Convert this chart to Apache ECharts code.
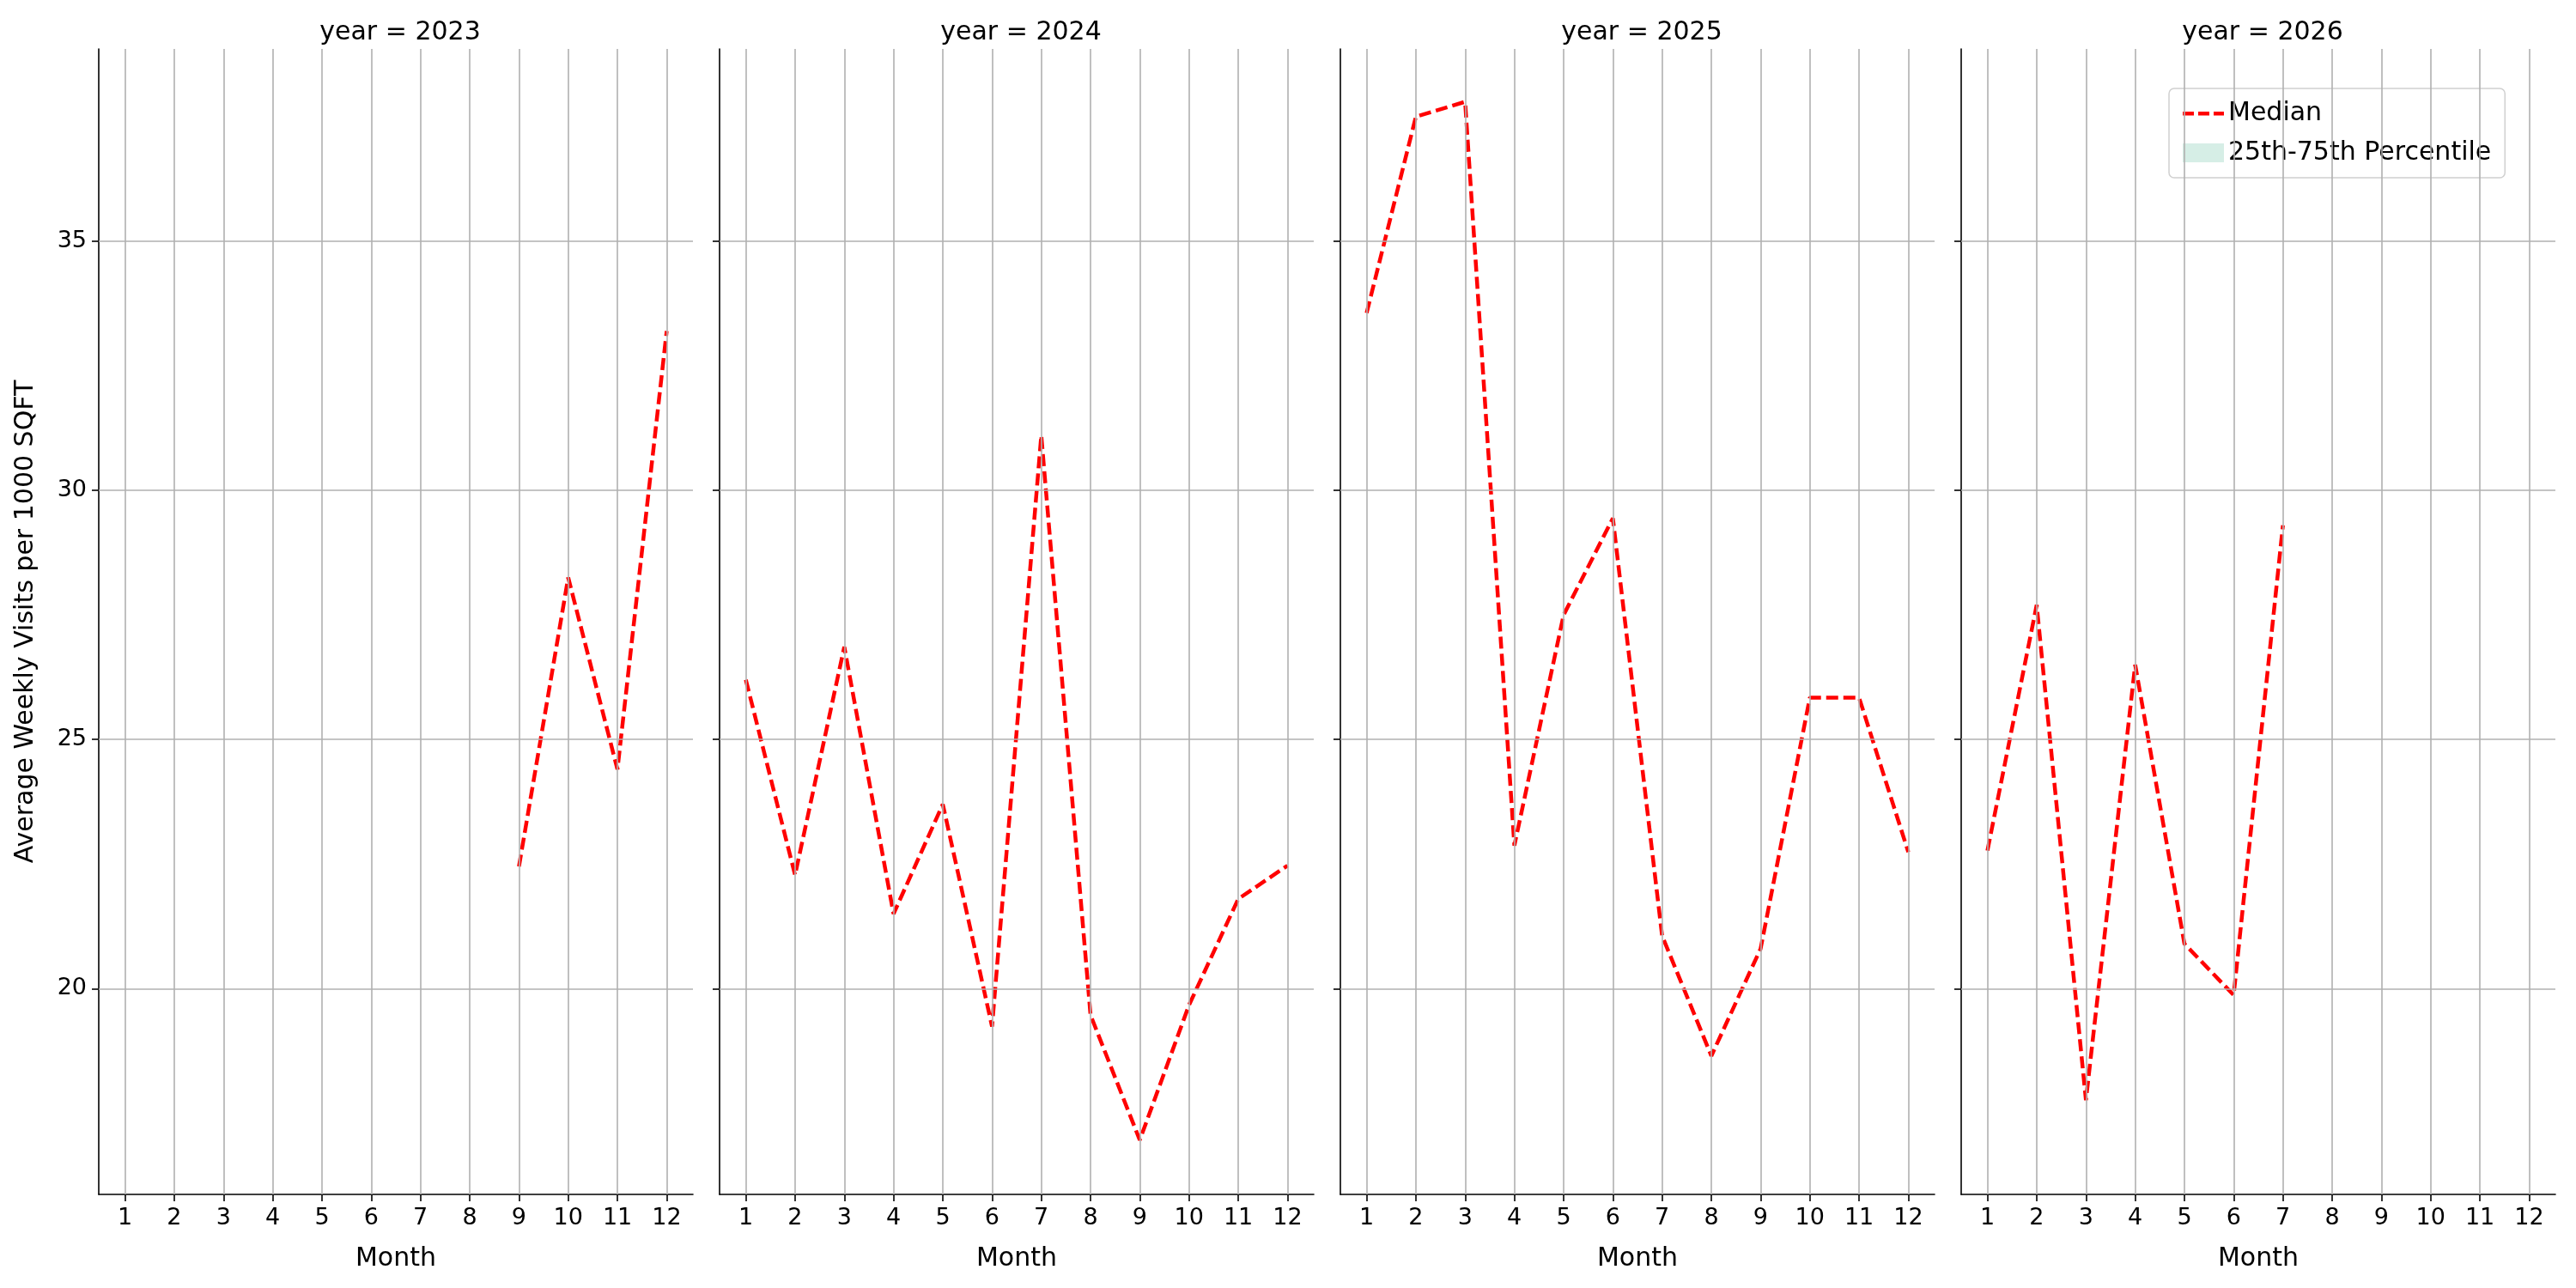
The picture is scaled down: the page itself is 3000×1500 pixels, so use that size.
<!DOCTYPE html>
<html><head><meta charset="utf-8">
<script src="https://cdn.jsdelivr.net/npm/echarts@6/dist/echarts.min.js"></script>
<style>html,body{margin:0;padding:0;background:#fff}#c{width:3000px;height:1500px}</style>
</head><body><div id="c"></div>
<script>
const years = [2023, 2024, 2025, 2026];
const months = [1,2,3,4,5,6,7,8,9,10,11,12];
const median2023 = [null,null,null,null,null,null,null,null,22.45,28.25,24.4,33.2];
const median2024 = [26.2,22.28,26.86,21.5,23.7,19.24,31.1,19.47,16.96,19.67,21.8,22.47];
const median2025 = [33.56,37.5,37.8,22.87,27.5,29.44,21.06,18.65,20.8,25.84,25.84,22.74];
const median2026 = [22.77,27.7,17.76,26.5,20.9,19.87,29.3,null,null,null,null,null];
const medians = [median2023, median2024, median2025, median2026];
const yTicks = [20, 25, 30, 35];

const lefts = [115, 838, 1561, 2284];
const W = 692, TOP = 57, H = 1334;
const font = 'DejaVu Sans';
const grids = [], xAxes = [], yAxes = [], series = [], titles = [];
years.forEach((yr, i) => {
  grids.push({left: lefts[i], top: TOP, width: W, height: H});
  titles.push({text: 'year = ' + yr, left: lefts[i] + W/2, top: 18, textAlign: 'center',
    textStyle: {fontFamily: font, fontSize: 30, fontWeight: 'normal', color: '#000'}});
  xAxes.push({type: 'value', gridIndex: i, min: 0.467, max: 12.533, interval: 1,
    name: 'Month', nameLocation: 'middle', nameGap: 60,
    nameTextStyle: {fontFamily: font, fontSize: 30, color: '#000'},
    axisLine: {show: true, onZero: false, lineStyle: {color: '#000', width: 1.6}},
    axisTick: {show: true, customValues: months, length: 8, lineStyle: {color: '#000', width: 1.6}},
    axisLabel: {customValues: months, fontFamily: font, fontSize: 27, color: '#000', margin: 14},
    splitLine: {show: false}});
  yAxes.push({type: 'value', gridIndex: i, min: 15.87, max: 38.86,
    name: i === 0 ? 'Average Weekly Visits per 1000 SQFT' : '', nameLocation: 'middle', nameGap: 70,
    nameTextStyle: {fontFamily: font, fontSize: 30, color: '#000'},
    axisLine: {show: true, lineStyle: {color: '#000', width: 1.6}},
    axisTick: {show: true, customValues: yTicks, length: 8, lineStyle: {color: '#000', width: 1.6}},
    axisLabel: {show: i === 0, customValues: yTicks, fontFamily: font, fontSize: 27, color: '#000', margin: 14},
    splitLine: {show: false}});
  series.push({type: 'line', xAxisIndex: i, yAxisIndex: i, data: [], silent: true,
    markLine: {silent: true, symbol: 'none', label: {show: false}, animation: false,
      lineStyle: {color: '#b0b0b0', width: 1.6, type: 'solid'},
      data: months.map(m => ({xAxis: m})).concat(yTicks.map(v => ({yAxis: v})))}});
  series.push({type: 'line', name: 'Median', xAxisIndex: i, yAxisIndex: i, symbol: 'none',
    connectNulls: false, animation: false,
    lineStyle: {color: '#ff0000', width: 4.5, type: [14, 6]}, itemStyle: {color: '#ff0000'},
    data: months.map((m, k) => [m, medians[i][k]])});
});
series.push({type: 'line', name: '25th-75th Percentile', xAxisIndex: 3, yAxisIndex: 3, data: [],
  itemStyle: {color: '#d6eee6'}, lineStyle: {color: '#d6eee6'}});

const chart = echarts.init(document.getElementById('c'));
chart.setOption({
  animation: false,
  title: titles, grid: grids, xAxis: xAxes, yAxis: yAxes, series: series,
  legend: {left: 2526, top: 103, orient: 'vertical', itemGap: 16,
    backgroundColor: '#fff', borderColor: '#d0d0d0', borderWidth: 1.5, borderRadius: 6, padding: [14, 16],
    textStyle: {fontFamily: font, fontSize: 30, color: '#000'}, itemWidth: 48, itemHeight: 22,
    data: [{name: 'Median', icon: 'path://M0,9h13v4.5h-13z M18,9h13v4.5h-13z M36,9h12v4.5h-12z M0,0h0.01v0.01h-0.01z M0,22h0.01v0.01h-0.01z', itemStyle: {color: '#ff0000'}},
           {name: '25th-75th Percentile', icon: 'rect', itemStyle: {color: '#d6eee6'}}]}
});
</script></body></html>
